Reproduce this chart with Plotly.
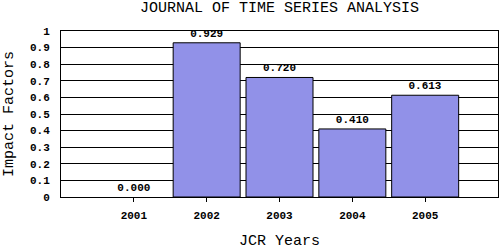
import plotly.graph_objects as go

years = ["2001", "2002", "2003", "2004", "2005"]
impact = [0.000, 0.929, 0.720, 0.410, 0.613]
labels = ["0.000", "0.929", "0.720", "0.410", "0.613"]
title = "JOURNAL OF TIME SERIES ANALYSIS"
x_title = "JCR Years"
y_title = "Impact Factors"

mono = "Liberation Mono"

fig = go.Figure(go.Bar(
    x=years, y=impact, text=labels, textposition="outside", cliponaxis=False,
    textfont=dict(family=mono, size=11, color="black", weight="bold"),
    marker=dict(color="#9191e8",
                line=dict(color="black", width=[0 if v == 0 else 1 for v in impact])),
    width=0.92,
))

L, R, T, B = 61, 2, 31, 53
fig.update_layout(
    width=500, height=250, margin=dict(l=L, r=R, t=T, b=B),
    paper_bgcolor="white", plot_bgcolor="white", showlegend=False,
    xaxis=dict(range=[-1, 5], type="category", showline=True, linecolor="black", linewidth=1,
               mirror=True, ticks="outside", ticklen=4, tickcolor="black", showgrid=False,
               tickfont=dict(family=mono, size=11, color="black", weight="bold"),
               ticklabelstandoff=4),
    yaxis=dict(range=[0, 1], dtick=0.1, showline=True, linecolor="black", linewidth=1,
               mirror=True, gridcolor="black", gridwidth=1, zeroline=False, ticks="",
               tickfont=dict(family=mono, size=11, color="black", weight="bold"),
               ticklabelstandoff=8),
    annotations=[
        dict(text=title, xref="paper", yref="paper", x=0.5, y=1, yshift=23, showarrow=False,
             font=dict(family=mono, size=15, color="black"), xanchor="center", yanchor="middle"),
        dict(text=x_title, xref="paper", yref="paper", x=0.5, y=0, yshift=-44, showarrow=False,
             font=dict(family=mono, size=15, color="black"), xanchor="center", yanchor="middle"),
        dict(text=y_title, xref="paper", yref="paper", x=0, y=0.5, xshift=-52, showarrow=False,
             textangle=-90, font=dict(family=mono, size=15, color="black"),
             xanchor="center", yanchor="middle"),
    ],
)

fig.write_html("out.html")
